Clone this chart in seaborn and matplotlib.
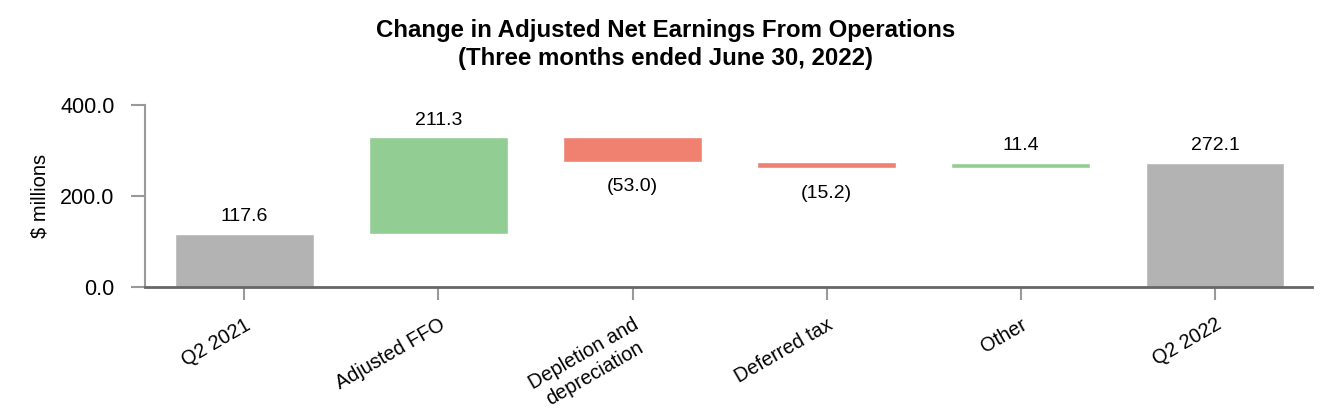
import matplotlib
matplotlib.use('Agg')
import matplotlib.pyplot as plt
import seaborn as sns

# 数据
categories = ['Q2 2021', 'Adjusted FFO', 'Depletion and\ndepreciation', 'Deferred tax', 'Other', 'Q2 2022']
changes = [117.6, 211.3, -53.0, -15.2, 11.4, 272.1]
kinds = ['total', 'delta', 'delta', 'delta', 'delta', 'total']
labels = ['117.6', '211.3', '(53.0)', '(15.2)', '11.4', '272.1']

sns.set_style('white')
plt.rcParams['font.family'] = ['Liberation Sans', 'DejaVu Sans']
plt.rcParams['text.color'] = 'black'
plt.rcParams['xtick.labelcolor'] = 'black'
plt.rcParams['ytick.labelcolor'] = 'black'
plt.rcParams['axes.labelcolor'] = 'black'

fig = plt.figure(figsize=(13.32, 4.2), dpi=100)
ax = fig.add_axes([0.109, 0.316, 0.876, 0.434])

colors = {'total': '#b3b3b3', 'up': '#92ce94', 'down': '#f08070'}

# 计算瀑布图的起点
running = 0.0
for i, (cat, val, kind, lab) in enumerate(zip(categories, changes, kinds, labels)):
    if kind == 'total':
        bottom, height, c = 0.0, val, colors['total']
        running = val
    else:
        if val >= 0:
            bottom, height, c = running, val, colors['up']
        else:
            bottom, height, c = running + val, -val, colors['down']
        running += val
    sns.barplot(x=[cat], y=[height], bottom=bottom, order=categories, color=c,
                width=0.715, errorbar=None, saturation=1, ax=ax)
    if val >= 0:
        ax.annotate(lab, (i, bottom + height), xytext=(0, 12.5), textcoords='offset points',
                    ha='center', va='center', fontsize=14)
    else:
        ax.annotate(lab, (i, bottom), xytext=(0, -18), textcoords='offset points',
                    ha='center', va='center', fontsize=14)

ax.set_ylim(0, 400)
ax.set_xlim(-0.51, 5.5)
ax.set_yticks([0, 200, 400])
ax.set_yticklabels(['0.0', '200.0', '400.0'], fontsize=15.5)
ax.set_xticks(range(len(categories)))
ax.set_xticklabels(categories, rotation=30, ha='right', rotation_mode='anchor',
                   fontsize=14.3, multialignment='center')
ax.set_xlabel('')
ax.set_ylabel('$ millions', fontsize=14.5, labelpad=8)

sns.despine(ax=ax)
ax.spines['left'].set_color('#999999')
ax.spines['left'].set_linewidth(1.5)
ax.spines['bottom'].set_color('#666666')
ax.spines['bottom'].set_linewidth(2)
ax.tick_params(axis='y', direction='out', length=10, width=1.5, color='#999999', left=True, pad=12)
ax.tick_params(axis='x', direction='out', length=9, width=1.5, color='#999999', bottom=True, pad=11)

fig.text(0.5, 0.955, 'Change in Adjusted Net Earnings From Operations\n(Three months ended June 30, 2022)',
         ha='center', va='top', fontsize=17.3, fontweight='bold', linespacing=1.3)

plt.savefig('out.png', dpi=100)
